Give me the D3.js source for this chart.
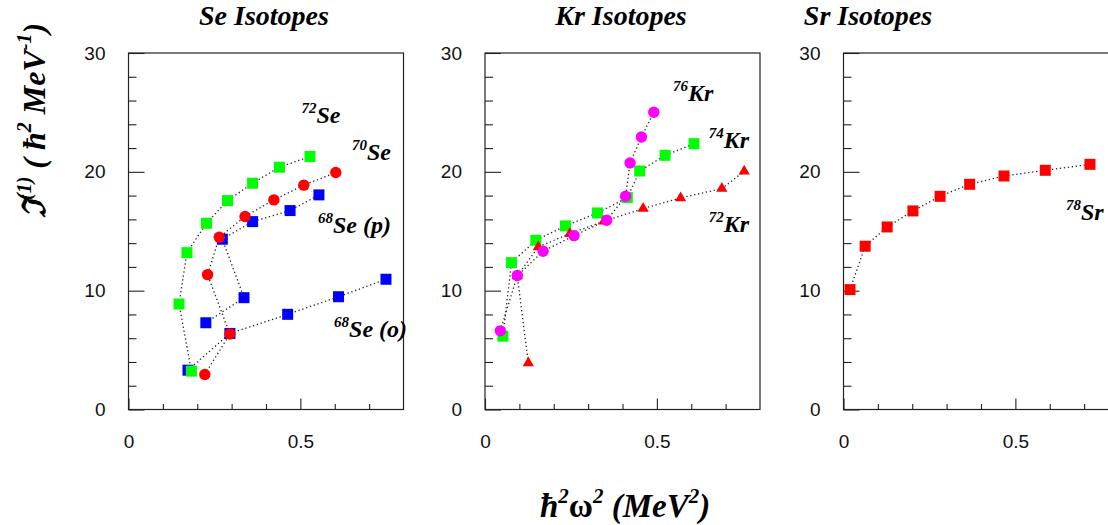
<!DOCTYPE html>
<html>
<head>
<meta charset="utf-8">
<script src="https://cdn.jsdelivr.net/npm/d3@7"></script>
<style>
  body { margin: 0; background: #fff; }
  svg { display: block; }
</style>
</head>
<body>
<svg id="chart" width="1108" height="525"></svg>
<script>
// Kinematic moment of inertia J(1) against (ħω)^2 for Se, Kr and Sr isotopes

const panelTitles = ["Se Isotopes", "Kr Isotopes", "Sr Isotopes"];
const xMajorTicks = [0, 0.5];
const xMinorTicks = [0.1, 0.2, 0.3, 0.4, 0.6, 0.7];
const yMajorTicks = [0, 10, 20, 30];
const yMinorTicks = [2, 4, 6, 8, 12, 14, 16, 18, 22, 24, 26, 28];

// [(ħω)^2 in MeV^2, J(1) in ħ^2/MeV]
const se68oblate = [[0.173, 3.31], [0.295, 6.40], [0.463, 8.01], [0.611, 9.49], [0.749, 10.96]];
const se68prolate = [[0.225, 7.30], [0.336, 9.41], [0.273, 14.33], [0.361, 15.81], [0.470, 16.74], [0.554, 18.06]];
const se72 = [[0.183, 3.23], [0.147, 8.88], [0.170, 13.2], [0.227, 15.67], [0.288, 17.58], [0.361, 19.04], [0.439, 20.39], [0.528, 21.29]];
const se70 = [[0.222, 2.95], [0.295, 6.35], [0.230, 11.35], [0.264, 14.49], [0.339, 16.24], [0.423, 17.64], [0.510, 18.88], [0.603, 19.94]];

const kr74 = [[0.052, 6.17], [0.077, 12.36], [0.148, 14.24], [0.234, 15.45], [0.327, 16.54], [0.414, 17.83], [0.450, 20.07], [0.524, 21.39], [0.608, 22.37]];
const kr72 = [[0.126, 3.92], [0.094, 11.24], [0.155, 13.68], [0.247, 14.80], [0.346, 15.84], [0.460, 16.91], [0.569, 17.80], [0.689, 18.59], [0.754, 20.04]];
const kr76 = [[0.0445, 6.62], [0.094, 11.27], [0.169, 13.32], [0.259, 14.63], [0.354, 15.92], [0.409, 17.94], [0.422, 20.75], [0.455, 22.93], [0.491, 25.01]];

const sr78 = [[0.019, 10.09], [0.063, 13.74], [0.127, 15.36], [0.202, 16.71], [0.281, 17.94], [0.367, 18.95], [0.467, 19.65], [0.587, 20.13], [0.717, 20.63]];

// nucleus labels: [mass number, element, suffix, x, y] in data units
const seLabels = [["72", "Se", "", 0.503, 24.07], ["70", "Se", "", 0.650, 20.98], ["68", "Se", " (p)", 0.551, 14.86], ["68", "Se", " (o)", 0.598, 6.09]];
const krLabels = [["76", "Kr", "", 0.547, 26.0], ["74", "Kr", "", 0.651, 22.0], ["72", "Kr", "", 0.651, 14.94]];
const srLabels = [["78", "Sr", "", 0.647, 15.93]];

// drawing order per panel (later series sit on top)
const panels = [
  { title: panelTitles[0], titleX: 264, labels: seLabels,
    series: [
      { data: se68oblate, color: "#0000ff", shape: "square" },
      { data: se68prolate, color: "#0000ff", shape: "square" },
      { data: se72, color: "#00ff00", shape: "square" },
      { data: se70, color: "#ff0000", shape: "circle" }
    ] },
  { title: panelTitles[1], titleX: 621, labels: krLabels,
    series: [
      { data: kr74, color: "#00ff00", shape: "square" },
      { data: kr72, color: "#ff0000", shape: "triangle" },
      { data: kr76, color: "#ff00ff", shape: "circle" }
    ] },
  { title: panelTitles[2], titleX: 868, labels: srLabels,
    series: [
      { data: sr78, color: "#ff0000", shape: "square" }
    ] }
];

const svg = d3.select("#chart");
const panelLeft = [128.5, 485, 843.5];
const panelW = 275, frameTop = 53, frameBottom = 409.5;
const serif = "'Liberation Serif', 'Times New Roman', Times, serif";
const sans = "'Liberation Sans', Arial, Helvetica, sans-serif";

const y = d3.scaleLinear().domain([0, 30]).range([frameBottom, frameTop]);

panels.forEach((p, i) => {
  const x = d3.scaleLinear().domain([0, 0.8]).range([panelLeft[i], panelLeft[i] + panelW]);
  const g = svg.append("g");

  // frame
  g.append("rect")
    .attr("x", panelLeft[i]).attr("y", frameTop)
    .attr("width", panelW).attr("height", frameBottom - frameTop)
    .attr("fill", "none").attr("stroke", "#222").attr("stroke-width", 1.2);

  // y axis, ticks pointing into the frame
  const yMaj = g.append("g").attr("transform", `translate(${panelLeft[i]},0)`)
    .call(d3.axisLeft(y).tickValues(yMajorTicks).tickSize(-16).tickPadding(23).tickFormat(d3.format("d")));
  const yMin = g.append("g").attr("transform", `translate(${panelLeft[i]},0)`)
    .call(d3.axisLeft(y).tickValues(yMinorTicks).tickSize(-8).tickFormat(""));

  // x axis
  const xMaj = g.append("g").attr("transform", `translate(0,${frameBottom})`)
    .call(d3.axisBottom(x).tickValues(xMajorTicks).tickSize(-11).tickPadding(25).tickFormat(d => d === 0 ? "0" : d3.format(".1f")(d)));
  const xMin = g.append("g").attr("transform", `translate(0,${frameBottom})`)
    .call(d3.axisBottom(x).tickValues(xMinorTicks).tickSize(-5.5).tickFormat(""));

  [yMaj, yMin, xMaj, xMin].forEach(a => {
    a.select(".domain").remove();
    a.selectAll("line").attr("stroke", "#222").attr("stroke-width", 1.1);
    a.selectAll("text").attr("font-family", sans).attr("font-size", 19).attr("fill", "#111");
  });

  // panel title
  svg.append("text")
    .attr("x", p.titleX).attr("y", 25)
    .attr("text-anchor", "middle")
    .attr("font-family", serif).attr("font-weight", "bold").attr("font-style", "italic")
    .attr("font-size", 28).attr("fill", "#000")
    .text(p.title);

  // dotted connecting lines
  const line = d3.line().x(d => x(d[0])).y(d => y(d[1]));
  p.series.forEach(s => {
    g.append("path").datum(s.data)
      .attr("d", line)
      .attr("fill", "none").attr("stroke", "#222")
      .attr("stroke-width", 1.3).attr("stroke-dasharray", "1.3,2.7");
  });

  // markers
  p.series.forEach(s => {
    const m = g.append("g").attr("fill", s.color);
    if (s.shape === "square") {
      m.selectAll("rect").data(s.data).join("rect")
        .attr("x", d => x(d[0]) - 5.5).attr("y", d => y(d[1]) - 5.5)
        .attr("width", 11).attr("height", 11);
    } else if (s.shape === "circle") {
      m.selectAll("circle").data(s.data).join("circle")
        .attr("cx", d => x(d[0])).attr("cy", d => y(d[1])).attr("r", 5.7);
    } else {
      m.selectAll("path").data(s.data).join("path")
        .attr("d", d3.symbol(d3.symbolTriangle, 55))
        .attr("transform", d => `translate(${x(d[0])},${y(d[1])})`);
    }
  });

  // nucleus labels
  p.labels.forEach(l => {
    const t = g.append("text")
      .attr("x", x(l[3])).attr("y", y(l[4]))
      .attr("font-family", serif).attr("font-weight", "bold").attr("font-style", "italic")
      .attr("font-size", 24).attr("fill", "#000");
    t.append("tspan").attr("font-size", 15).attr("dy", -10).text(l[0]);
    t.append("tspan").attr("dy", 10).text(l[1] + l[2]);
  });
});

// y axis title (rotated)
const yTitle = svg.append("text")
  .attr("transform", "translate(45,218) rotate(-90)")
  .attr("text-anchor", "start")
  .attr("font-family", serif).attr("font-weight", "bold").attr("font-style", "italic")
  .attr("font-size", 32).attr("fill", "#000");
yTitle.append("tspan").text("\u2111");
yTitle.append("tspan").attr("font-size", 20).attr("dy", -14).text("(1)");
yTitle.append("tspan").attr("dy", 14).text(" ( \u0127");
yTitle.append("tspan").attr("font-size", 20).attr("dy", -14).text("2");
yTitle.append("tspan").attr("dy", 14).text(" MeV");
yTitle.append("tspan").attr("font-size", 20).attr("dy", -14).text("-1");
yTitle.append("tspan").attr("dy", 14).text(")");

// x axis title
const xTitle = svg.append("text")
  .attr("x", 540).attr("y", 517)
  .attr("font-family", serif).attr("font-weight", "bold").attr("font-style", "italic")
  .attr("font-size", 33).attr("fill", "#000");
xTitle.append("tspan").text("\u0127");
xTitle.append("tspan").attr("font-size", 21).attr("dy", -14).text("2");
xTitle.append("tspan").attr("dy", 14).attr("font-style", "normal").text("\u03c9");
xTitle.append("tspan").attr("font-size", 21).attr("dy", -14).text("2");
xTitle.append("tspan").attr("dy", 14).text(" (MeV");
xTitle.append("tspan").attr("font-size", 21).attr("dy", -14).text("2");
xTitle.append("tspan").attr("dy", 14).text(")");
</script>
</body>
</html>
